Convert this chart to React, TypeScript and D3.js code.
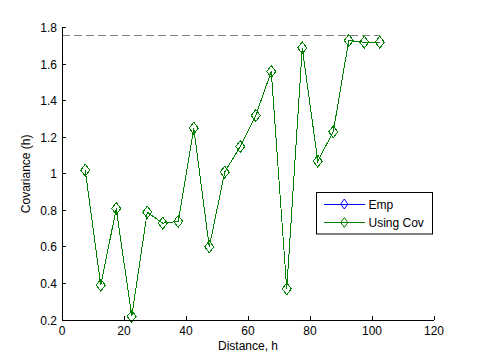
import React from 'react'
import * as d3 from 'd3'

// Lag distances (h) and covariance estimates
const distances = [7.5, 12.5, 17.5, 22.5, 27.5, 32.5, 37.5, 42.5, 47.5, 52.5, 57.5, 62.5, 67.5, 72.5, 77.5, 82.5, 87.5, 92.5, 97.5, 102.5]
const empValues = [1.02, 0.39, 0.81, 0.22, 0.79, 0.73, 0.74, 1.25, 0.6, 1.01, 1.15, 1.32, 1.56, 0.37, 1.69, 1.07, 1.23, 1.73, 1.72, 1.72]
const covValues = [1.02, 0.39, 0.81, 0.22, 0.79, 0.73, 0.74, 1.25, 0.6, 1.01, 1.15, 1.32, 1.56, 0.37, 1.69, 1.07, 1.23, 1.73, 1.72, 1.72]
const sillValue = 1.76
const sillExtent = [0, 102.5]
const xTicks = [0, 20, 40, 60, 80, 100, 120]
const yTicks = [0.2, 0.4, 0.6, 0.8, 1, 1.2, 1.4, 1.6, 1.8]
const seriesNames = ['Emp', 'Using Cov']
const seriesColors = ['#0000ff', '#008000']

const WIDTH = 480
const HEIGHT = 360
const FONT = '"Liberation Sans", Arial, Helvetica, sans-serif'

function Diamond({ x, y, color, w = 4.5, h = 6 }: { x: number; y: number; color: string; w?: number; h?: number }) {
  return (
    <path
      d={`M${x},${y - h}L${x + w},${y}L${x},${y + h}L${x - w},${y}Z`}
      fill="none"
      stroke={color}
      strokeWidth={1}
    />
  )
}

export default function App() {
  const xScale = d3.scaleLinear().domain([0, 120]).range([62, 434])
  const yScale = d3.scaleLinear().domain([0.2, 1.8]).range([320, 27.7])

  const line = d3
    .line<[number, number]>()
    .x((d) => xScale(d[0]))
    .y((d) => yScale(d[1]))

  const series = [empValues, covValues].map((vals) =>
    distances.map((h, i) => [h, vals[i]] as [number, number])
  )

  const [x0, x1] = xScale.range()
  const [y0, y1] = yScale.range()

  // legend box
  const lg = { x: 316.5, y: 192.5, w: 116, h: 41.5 }
  const rowY = [204, 222.5]

  return (
    <div style={{ position: 'fixed', left: 0, top: 0, width: WIDTH, height: HEIGHT, background: '#fff' }}>
      <svg width={WIDTH} height={HEIGHT} style={{ display: 'block' }} fontFamily={FONT}>
        <rect width={WIDTH} height={HEIGHT} fill="#fff" />

        {/* sill line */}
        <line
          x1={xScale(sillExtent[0])}
          x2={xScale(sillExtent[1])}
          y1={Math.round(yScale(sillValue)) + 0.5}
          y2={Math.round(yScale(sillValue)) + 0.5}
          stroke="#808080"
          strokeWidth={1}
          strokeDasharray="8,4"
          shapeRendering="crispEdges"
        />

        {/* data */}
        {series.map((pts, si) => (
          <g key={si} shapeRendering="crispEdges">
            <path d={line(pts) || ''} fill="none" stroke={seriesColors[si]} strokeWidth={1} />
            {pts.map((p, i) => (
              <Diamond key={i} x={xScale(p[0])} y={yScale(p[1])} color={seriesColors[si]} />
            ))}
          </g>
        ))}

        {/* axes */}
        <line x1={x0} x2={x0} y1={y0} y2={y1} stroke="#000" strokeWidth={1} shapeRendering="crispEdges" />
        <line x1={x0} x2={x1} y1={y0} y2={y0} stroke="#000" strokeWidth={1} shapeRendering="crispEdges" />
        {xTicks.map((t) => (
          <g key={t}>
            <line x1={xScale(t)} x2={xScale(t)} y1={y0} y2={y0 - 4} stroke="#000" shapeRendering="crispEdges" />
            <text x={xScale(t)} y={335} textAnchor="middle" fontSize={12} fill="#000">
              {t}
            </text>
          </g>
        ))}
        {yTicks.map((t) => (
          <g key={t}>
            <line x1={x0} x2={x0 + 4} y1={yScale(t)} y2={yScale(t)} stroke="#000" shapeRendering="crispEdges" />
            <text x={57} y={yScale(t) + 4.5} textAnchor="end" fontSize={12} fill="#000">
              {d3.format('~g')(t)}
            </text>
          </g>
        ))}

        <text x={(x0 + x1) / 2} y={350} textAnchor="middle" fontSize={12} fill="#000">
          Distance, h
        </text>
        <text
          transform={`translate(30,${(y0 + y1) / 2}) rotate(-90)`}
          textAnchor="middle"
          fontSize={12}
          fill="#000"
        >
          Covariance (h)
        </text>

        {/* legend */}
        <rect x={lg.x} y={lg.y} width={lg.w} height={lg.h} fill="#fff" stroke="#000" strokeWidth={1} />
        {seriesNames.map((name, i) => (
          <g key={name}>
            <line x1={324} x2={364.5} y1={rowY[i]} y2={rowY[i]} stroke={seriesColors[i]} strokeWidth={1} shapeRendering="crispEdges" />
            <Diamond x={344.3} y={rowY[i]} color={seriesColors[i]} w={3.5} h={5} />
            <text x={368.5} y={rowY[i] + 4.5} fontSize={12} fill="#000">
              {name}
            </text>
          </g>
        ))}
      </svg>
    </div>
  )
}
